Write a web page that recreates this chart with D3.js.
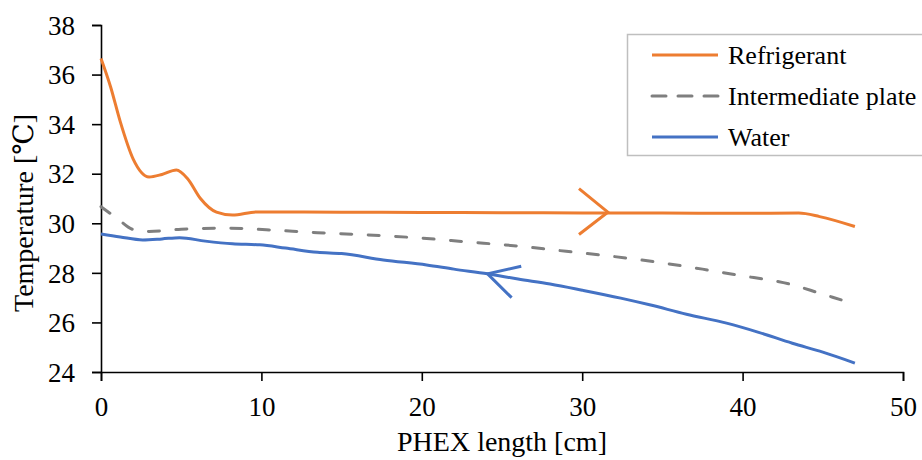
<!DOCTYPE html>
<html>
<head>
<meta charset="UTF-8">
<script src="https://cdn.jsdelivr.net/npm/d3@7"></script>
<style>
  body { margin: 0; background: #fff; }
  #chart text { font-family: 'Liberation Serif', Tinos, 'Times New Roman', 'DejaVu Serif', 'Noto Serif', serif !important; }
</style>
</head>
<body>
<svg id="chart" width="922" height="460"></svg>
<script>
// x = PHEX length [cm], t = temperature [C]
const refrigerant = [
  [0, 36.65], [0.6, 35.5], [1.2, 34.1], [2.0, 32.6], [3.0, 31.87], [3.8, 31.97],
  [4.7, 32.15], [5.4, 31.8], [6.2, 31.0], [7.2, 30.45], [8.2, 30.33], [9.7, 30.46],
  [15, 30.45], [20, 30.44], [25, 30.43], [30, 30.42], [35, 30.41], [40, 30.4],
  [43.5, 30.41], [44.8, 30.27], [47, 29.87]
];
const plate = [
  [0, 30.67], [1.0, 30.2], [2.0, 29.75], [3.0, 29.67], [5.0, 29.76], [8.0, 29.8],
  [10.3, 29.74], [13.5, 29.62], [16, 29.55], [20, 29.4], [22.8, 29.25], [26, 29.08],
  [29, 28.87], [31.7, 28.68], [35, 28.4], [37.5, 28.15], [39.6, 27.92], [43.1, 27.52],
  [44.8, 27.18], [47, 26.74]
];
const water = [
  [0, 29.57], [1.2, 29.45], [2.6, 29.33], [3.8, 29.37], [4.9, 29.42], [6.5, 29.28],
  [8.2, 29.17], [9.9, 29.13], [11.5, 29.0], [13.5, 28.83], [15, 28.78], [17.6, 28.52],
  [20.3, 28.32], [22, 28.15], [24.1, 27.96], [26, 27.75], [28, 27.55], [30, 27.3],
  [32.4, 26.98], [34.2, 26.71], [36.5, 26.33], [39, 25.97], [41, 25.6], [43.1, 25.16],
  [45, 24.8], [47, 24.36]
];
// flow direction chevrons: arm, tip, arm
const refArrow = [[29.8, 31.4], [31.6, 30.45], [29.8, 29.55]];
const waterArrow = [[26.2, 28.27], [24.1, 27.96], [25.6, 27.0]];

const xTicks = [0, 10, 20, 30, 40, 50];
const yTicks = [24, 26, 28, 30, 32, 34, 36, 38];
const seriesNames = ["Refrigerant", "Intermediate plate", "Water"];
const colors = ["#ED7D31", "#7F7F7F", "#4472C4"];
const serif = "'Liberation Serif', Tinos, 'Times New Roman', 'DejaVu Serif', serif";

const svg = d3.select("#chart");
const x = d3.scaleLinear().domain([0, 50]).range([101, 903]);
const y = d3.scaleLinear().domain([24, 38]).range([372, 25]);

const xAxis = svg.append("g")
  .attr("transform", "translate(0," + y(24) + ")")
  .call(d3.axisBottom(x).tickValues(xTicks).tickSize(9).tickPadding(16));
const yAxis = svg.append("g")
  .attr("transform", "translate(" + x(0) + ",0)")
  .call(d3.axisLeft(y).tickValues(yTicks).tickSize(9).tickPadding(17));
[xAxis, yAxis].forEach(function (a) {
  a.attr("font-family", serif).attr("font-size", 27);
  a.select(".domain").attr("stroke", "#000").attr("stroke-width", 1.6);
  a.selectAll(".tick line").attr("stroke", "#000").attr("stroke-width", 1.6);
  a.selectAll(".tick text").attr("fill", "#000").attr("font-family", serif);
});
yAxis.selectAll(".tick text").attr("dy", "0.34em");

const line = d3.line()
  .x(function (d) { return x(d[0]); })
  .y(function (d) { return y(d[1]); })
  .curve(d3.curveMonotoneX);

[refrigerant, plate, water].forEach(function (s, i) {
  svg.append("path")
    .datum(s)
    .attr("d", line)
    .attr("fill", "none")
    .attr("stroke", colors[i])
    .attr("stroke-width", 3)
    .attr("stroke-linecap", i === 1 ? "round" : "butt")
    .attr("stroke-dasharray", i === 1 ? "11,16.5" : null);
});

const straight = d3.line()
  .x(function (d) { return x(d[0]); })
  .y(function (d) { return y(d[1]); });
[[refArrow, colors[0]], [waterArrow, colors[2]]].forEach(function (a) {
  svg.append("path")
    .attr("d", straight(a[0]))
    .attr("fill", "none")
    .attr("stroke", a[1])
    .attr("stroke-width", 3);
});

// axis titles
svg.append("text")
  .attr("x", 502).attr("y", 451)
  .attr("text-anchor", "middle")
  .attr("font-family", serif)
  .attr("font-size", 28)
  .text("PHEX length [cm]");
svg.append("text")
  .attr("transform", "translate(33,213) rotate(-90)")
  .attr("text-anchor", "middle")
  .attr("font-family", serif)
  .attr("font-size", 28)
  .text("Temperature [℃]");

// legend
const legend = svg.append("g");
legend.append("rect")
  .attr("x", 627.5).attr("y", 34.5)
  .attr("width", 300).attr("height", 121)
  .attr("fill", "#fff")
  .attr("stroke", "#BFBFBF")
  .attr("stroke-width", 1.5);
const rowY = [55, 96, 137];
seriesNames.forEach(function (name, i) {
  legend.append("line")
    .attr("x1", 652).attr("x2", 718)
    .attr("y1", rowY[i]).attr("y2", rowY[i])
    .attr("stroke", colors[i])
    .attr("stroke-width", 3)
    .attr("stroke-linecap", i === 1 ? "round" : "butt")
    .attr("stroke-dasharray", i === 1 ? "14,12" : null);
  legend.append("text")
    .attr("x", 728).attr("y", rowY[i])
    .attr("dy", "0.34em")
    .attr("font-family", serif)
    .attr("font-size", 26)
    .text(name);
});
</script>
</body>
</html>
